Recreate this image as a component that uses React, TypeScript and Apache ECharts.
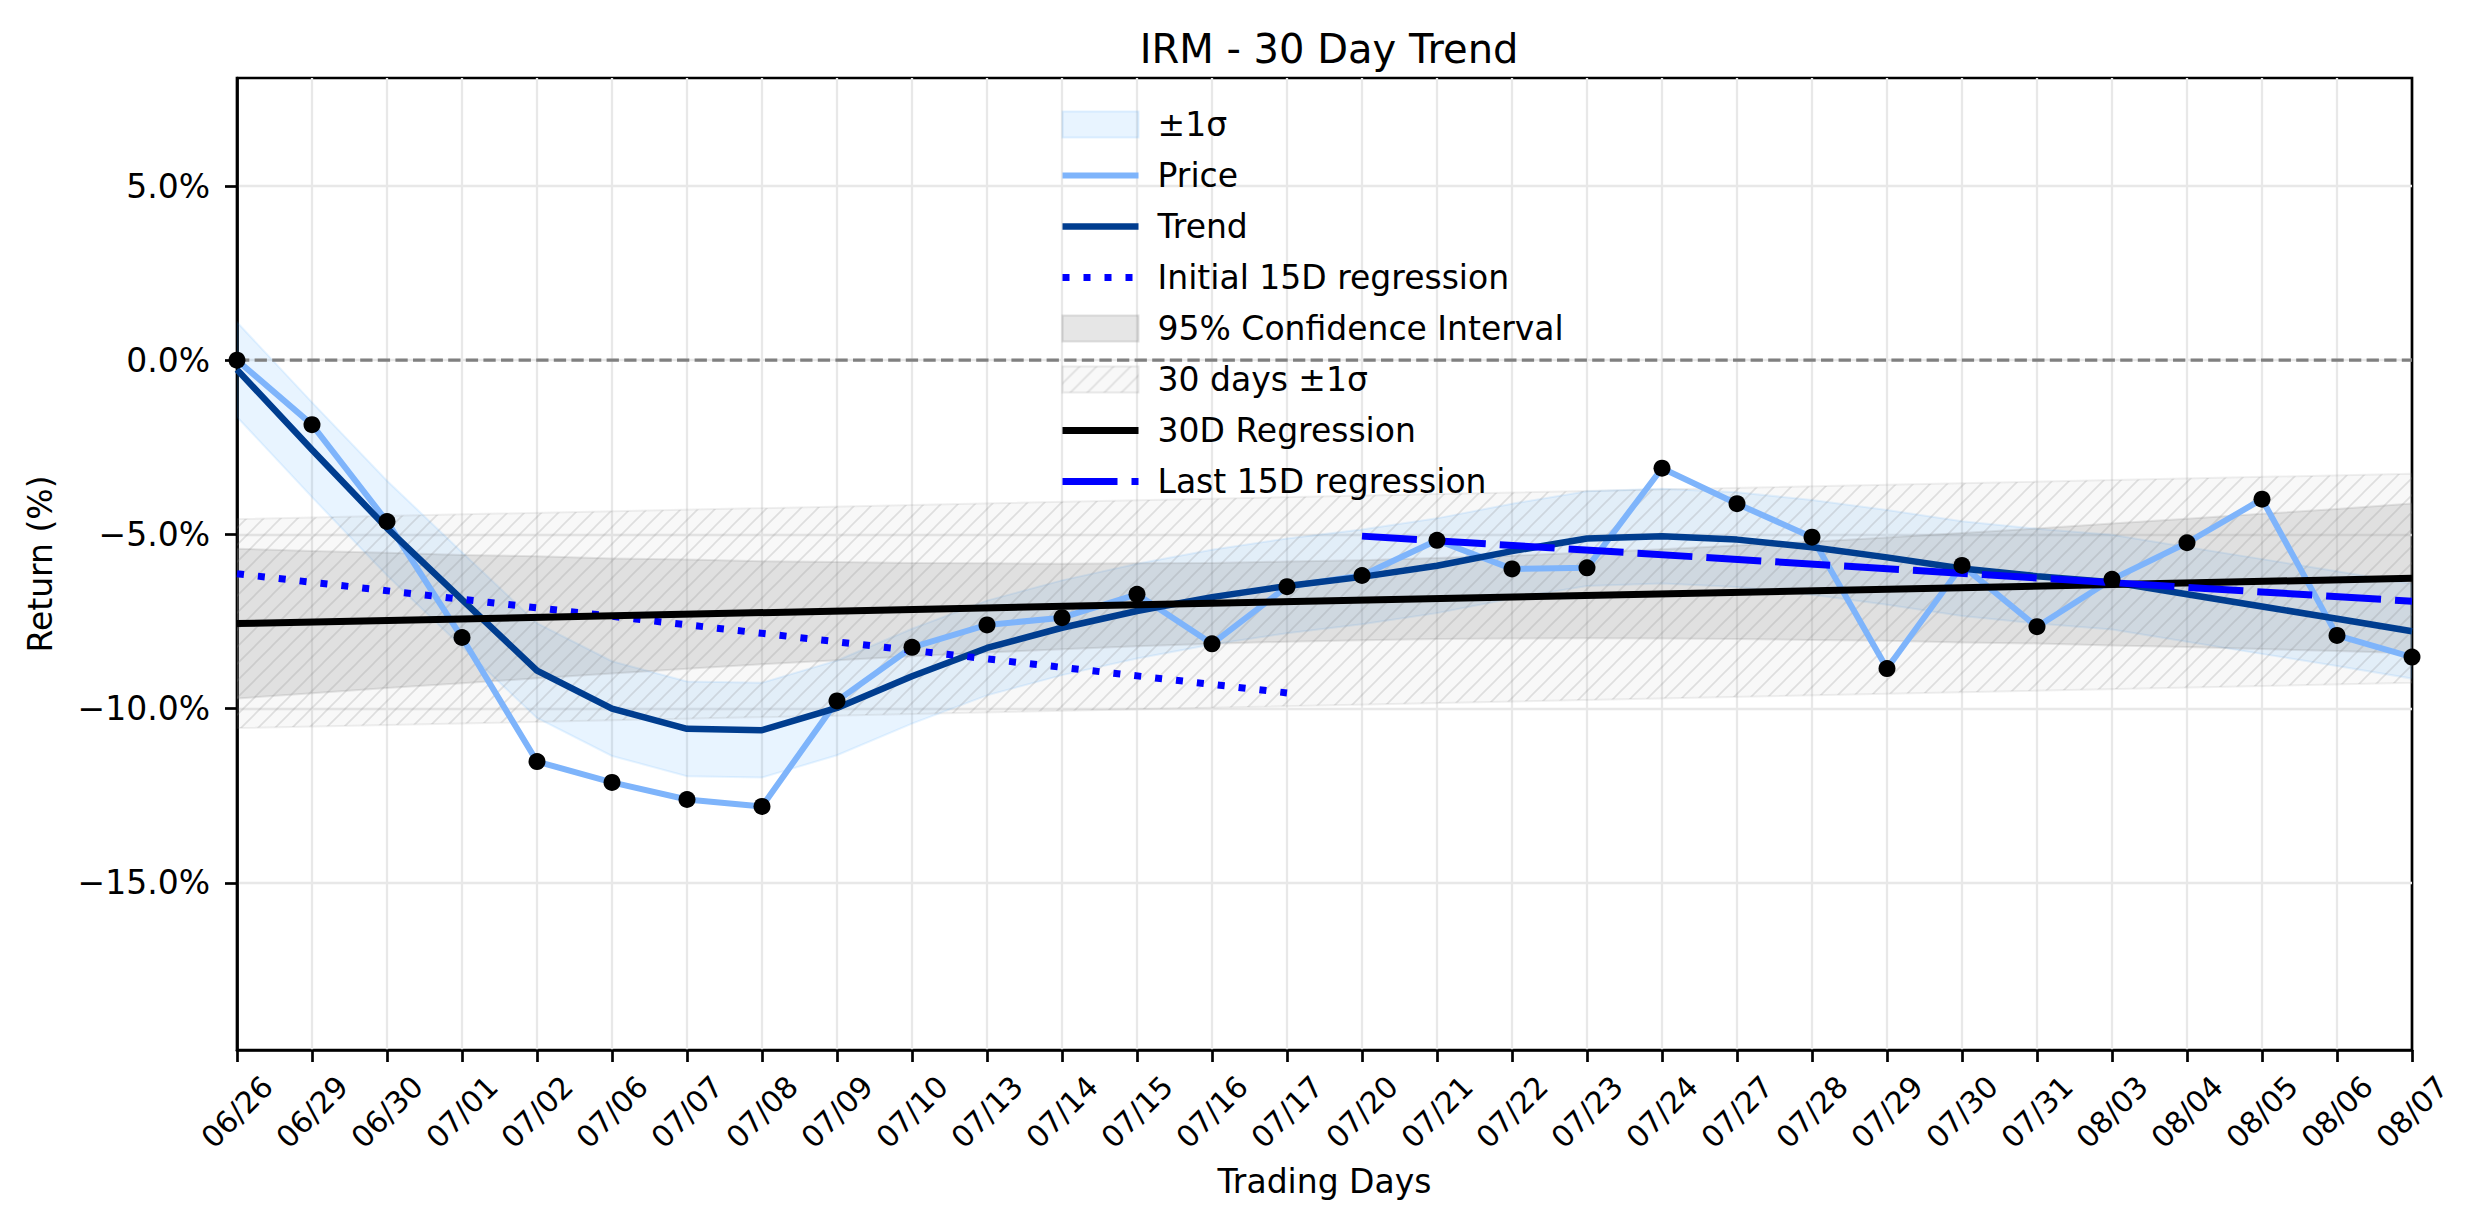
import React, { useEffect, useRef } from 'react';
import * as echarts from 'echarts';

const dates = [
  '06/26', '06/29', '06/30', '07/01', '07/02', '07/06', '07/07', '07/08', '07/09', '07/10',
  '07/13', '07/14', '07/15', '07/16', '07/17', '07/20', '07/21', '07/22', '07/23', '07/24',
  '07/27', '07/28', '07/29', '07/30', '07/31', '08/03', '08/04', '08/05', '08/06', '08/07'
];

// daily return (%) vs first day
const price = [
  0.0, -1.85, -4.63, -7.96, -11.52, -12.12, -12.61, -12.81, -9.78, -8.24,
  -7.6, -7.39, -6.72, -8.14, -6.5, -6.18, -5.17, -5.99, -5.96, -3.1,
  -4.12, -5.08, -8.85, -5.89, -7.65, -6.29, -5.24, -3.99, -7.9, -8.52
];

const trend = [
  -0.27, -2.57, -4.82, -6.87, -8.91, -10.0, -10.58, -10.62, -9.98, -9.07,
  -8.26, -7.68, -7.2, -6.8, -6.48, -6.22, -5.9, -5.48, -5.12, -5.05,
  -5.15, -5.37, -5.66, -5.98, -6.2, -6.37, -6.72, -7.07, -7.42, -7.78
];

const sigmaUpper = [
  1.09, -1.21, -3.46, -5.51, -7.55, -8.64, -9.22, -9.26, -8.62, -7.71,
  -6.9, -6.32, -5.84, -5.44, -5.12, -4.86, -4.54, -4.12, -3.76, -3.69,
  -3.79, -4.01, -4.3, -4.62, -4.84, -5.01, -5.36, -5.71, -6.06, -6.42
];
const sigmaLower = [
  -1.63, -3.93, -6.18, -8.23, -10.27, -11.36, -11.94, -11.98, -11.34, -10.43,
  -9.62, -9.04, -8.56, -8.16, -7.84, -7.58, -7.26, -6.84, -6.48, -6.41,
  -6.51, -6.73, -7.02, -7.34, -7.56, -7.73, -8.08, -8.43, -8.78, -9.14
];

const ciUpper = [
  -5.41, -5.48, -5.53, -5.59, -5.63, -5.69, -5.72, -5.77, -5.79, -5.82,
  -5.83, -5.84, -5.83, -5.82, -5.78, -5.74, -5.68, -5.61, -5.52, -5.43,
  -5.32, -5.21, -5.09, -4.96, -4.83, -4.69, -4.55, -4.41, -4.27, -4.11
];
const ciLower = [
  -9.71, -9.56, -9.41, -9.27, -9.13, -8.99, -8.86, -8.73, -8.61, -8.5,
  -8.39, -8.3, -8.21, -8.14, -8.08, -8.04, -8.0, -7.99, -7.98, -7.99,
  -8.0, -8.03, -8.05, -8.1, -8.13, -8.19, -8.23, -8.29, -8.35, -8.41
];

// straight lines: values at first and last day
const reg30 = [-7.56, -6.26];
const hatchUpper = [-4.56, -3.26];
const hatchLower = [-10.56, -9.26];
const initial15 = [-6.13, -9.55]; // day 0 -> day 14
const last15 = [-5.05, -6.92]; // day 15 -> day 29

const yTicks = [-15, -10, -5, 0, 5];

const FONT = 'DejaVu Sans';
const LAST = dates.length - 1;

const pairs = (arr: number[]) => arr.map((v, i) => [i, v]);
const ends = (a: number, b: number, v: number[]) => [[a, v[0]], [b, v[1]]];

function hatchCanvas() {
  const s = 17;
  const c = document.createElement('canvas');
  c.width = s;
  c.height = s;
  const ctx = c.getContext('2d')!;
  ctx.fillStyle = 'rgba(128,128,128,0.06)';
  ctx.fillRect(0, 0, s, s);
  ctx.strokeStyle = 'rgba(128,128,128,0.22)';
  ctx.lineWidth = 1.6;
  ctx.beginPath();
  ctx.moveTo(0, s);
  ctx.lineTo(s, 0);
  ctx.moveTo(-3, 3);
  ctx.lineTo(3, -3);
  ctx.moveTo(s - 3, s + 3);
  ctx.lineTo(s + 3, s - 3);
  ctx.stroke();
  return c;
}

// filled area between two polylines, drawn as one polygon
function band(name: string, lower: number[][], upper: number[][], fill: any, edge: string) {
  return {
    name,
    type: 'custom',
    data: [lower[0]],
    silent: true,
    clip: true,
    z: 1,
    itemStyle: { color: typeof fill === 'string' ? fill : '#f2f2f2' },
    renderItem: (_params: any, api: any) => {
      const pts = upper.map((p) => api.coord(p)).concat(lower.slice().reverse().map((p) => api.coord(p)));
      return {
        type: 'polygon',
        shape: { points: pts },
        style: { fill, stroke: edge, lineWidth: 2 }
      };
    }
  };
}

const App: React.FC = () => {
  const chartRef = useRef<HTMLDivElement>(null);

  useEffect(() => {
    if (!chartRef.current) return;
    const chart = echarts.init(chartRef.current, null, { renderer: 'svg' });
    const hatch = { image: hatchCanvas(), repeat: 'repeat' };

    const sigmaFill = 'rgba(30,144,255,0.1)';
    const ciFill = 'rgba(128,128,128,0.2)';
    const noMark = { opacity: 0 };

    const option = {
      animation: false,
      textStyle: { fontFamily: FONT },
      title: {
        text: 'IRM - 30 Day Trend',
        left: 1324,
        top: 24,
        textAlign: 'center',
        textStyle: { fontSize: 40, fontWeight: 'normal', color: '#000', fontFamily: FONT, lineHeight: 40 }
      },
      legend: {
        orient: 'vertical',
        left: 1059,
        top: 108,
        padding: 0,
        itemWidth: 76,
        itemHeight: 26,
        itemGap: 18,
        selectedMode: false,
        textStyle: { fontSize: 33, lineHeight: 33, color: '#000', fontFamily: FONT, padding: [0, 0, 0, 14] },
        data: [
          { name: '±1σ', icon: 'rect', itemStyle: { color: sigmaFill, borderColor: 'rgba(30,144,255,0.12)', borderWidth: 2 } },
          { name: 'Price', itemStyle: noMark, lineStyle: { width: 6, color: '#7eb4fb' } },
          { name: 'Trend', itemStyle: noMark, lineStyle: { width: 6.5, color: '#003d8f' } },
          { name: 'Initial 15D regression', itemStyle: noMark, lineStyle: { width: 7, type: [7, 14], color: '#0000ff' } },
          { name: '95% Confidence Interval', icon: 'rect', itemStyle: { color: ciFill, borderColor: 'rgba(128,128,128,0.22)', borderWidth: 2 } },
          { name: '30 days ±1σ', icon: 'rect', itemStyle: { color: hatch, borderColor: 'rgba(128,128,128,0.15)', borderWidth: 2 } },
          { name: '30D Regression', itemStyle: noMark, lineStyle: { width: 7, color: '#000' } },
          { name: 'Last 15D regression', itemStyle: noMark, lineStyle: { width: 7, type: [55, 14], color: '#0000ff' } }
        ]
      },
      grid: {
        left: 237,
        right: 62,
        top: 78,
        bottom: 174,
        show: true,
        borderColor: '#000',
        borderWidth: 2.7,
        backgroundColor: 'transparent'
      },
      xAxis: {
        type: 'value',
        min: 0,
        max: LAST,
        interval: 1,
        name: 'Trading Days',
        nameLocation: 'middle',
        nameGap: 115,
        nameTextStyle: { fontSize: 33, lineHeight: 33, color: '#000', fontFamily: FONT },
        axisLine: { onZero: false, lineStyle: { color: '#000', width: 2.7 } },
        axisTick: { length: 12, lineStyle: { color: '#000', width: 2.7 } },
        axisLabel: {
          formatter: (v: number) => dates[v] ?? '',
          rotate: 45,
          align: 'center',
          verticalAlign: 'middle',
          margin: 62,
          fontSize: 30,
          color: '#000',
          fontFamily: FONT
        },
        splitLine: {
          show: true,
          showMinLine: false,
          showMaxLine: false,
          lineStyle: { color: '#e8e8e8', width: 2.3 }
        }
      },
      yAxis: {
        type: 'value',
        min: -19.8,
        max: 8.1,
        name: 'Return (%)',
        nameLocation: 'middle',
        nameGap: 180,
        nameTextStyle: { fontSize: 33, lineHeight: 33, color: '#000', fontFamily: FONT },
        axisLine: { show: true, onZero: false, lineStyle: { color: '#000', width: 2.7 } },
        axisTick: { show: true, length: 12, customValues: yTicks, lineStyle: { color: '#000', width: 2.7 } },
        axisLabel: {
          customValues: yTicks,
          formatter: (v: number) => (v < 0 ? '\u2212' : '') + Math.abs(v).toFixed(1) + '%',
          margin: 27,
          fontSize: 33,
          color: '#000',
          fontFamily: FONT
        },
        splitLine: { show: false }
      },
      series: [
        {
          name: 'ygrid',
          type: 'line',
          data: [],
          silent: true,
          z: 0,
          markLine: {
            silent: true,
            z: 0,
            symbol: ['none', 'none'],
            label: { show: false },
            lineStyle: { color: '#e8e8e8', width: 2.3, type: 'solid' },
            data: yTicks.map((v) => ({ yAxis: v }))
          }
        },
        band('±1σ', pairs(sigmaLower), pairs(sigmaUpper), sigmaFill, 'rgba(30,144,255,0.1)'),
        band('95% Confidence Interval', pairs(ciLower), pairs(ciUpper), ciFill, 'rgba(128,128,128,0.18)'),
        band('30 days ±1σ', ends(0, LAST, hatchLower), ends(0, LAST, hatchUpper), hatch, 'rgba(128,128,128,0.12)'),
        {
          name: 'zero',
          type: 'line',
          data: [[0, 0], [LAST, 0]],
          symbol: 'none',
          silent: true,
          z: 3,
          lineStyle: { color: '#808080', width: 3.3, type: [12.3, 5.3] }
        },
        {
          name: 'Price',
          type: 'line',
          data: pairs(price),
          symbol: 'none',
          z: 3,
          lineStyle: { color: '#7eb4fb', width: 6 },
          itemStyle: { color: '#7eb4fb' }
        },
        {
          name: 'Trend',
          type: 'line',
          data: pairs(trend),
          symbol: 'none',
          z: 3,
          lineStyle: { color: '#003d8f', width: 6.5 },
          itemStyle: { color: '#003d8f' }
        },
        {
          name: 'Initial 15D regression',
          type: 'line',
          data: ends(0, 14, initial15),
          symbol: 'none',
          z: 3,
          lineStyle: { color: '#0000ff', width: 7, type: [7, 14] },
          itemStyle: { color: '#0000ff' }
        },
        {
          name: '30D Regression',
          type: 'line',
          data: ends(0, LAST, reg30),
          symbol: 'none',
          z: 3,
          lineStyle: { color: '#000', width: 7 },
          itemStyle: { color: '#000' }
        },
        {
          name: 'Last 15D regression',
          type: 'line',
          data: ends(15, LAST, last15),
          symbol: 'none',
          z: 3,
          lineStyle: { color: '#0000ff', width: 7, type: [55, 14] },
          itemStyle: { color: '#0000ff' }
        },
        {
          name: 'Price points',
          type: 'scatter',
          data: pairs(price),
          symbol: 'circle',
          symbolSize: 17,
          z: 5,
          itemStyle: { color: '#000', opacity: 1 }
        }
      ]
    };

    chart.setOption(option as any);

    return () => {
      chart.dispose();
    };
  }, []);

  return (
    <div
      ref={chartRef}
      style={{ position: 'absolute', left: 0, top: 0, width: 2474, height: 1224, background: '#fff' }}
    />
  );
};

export default App;
